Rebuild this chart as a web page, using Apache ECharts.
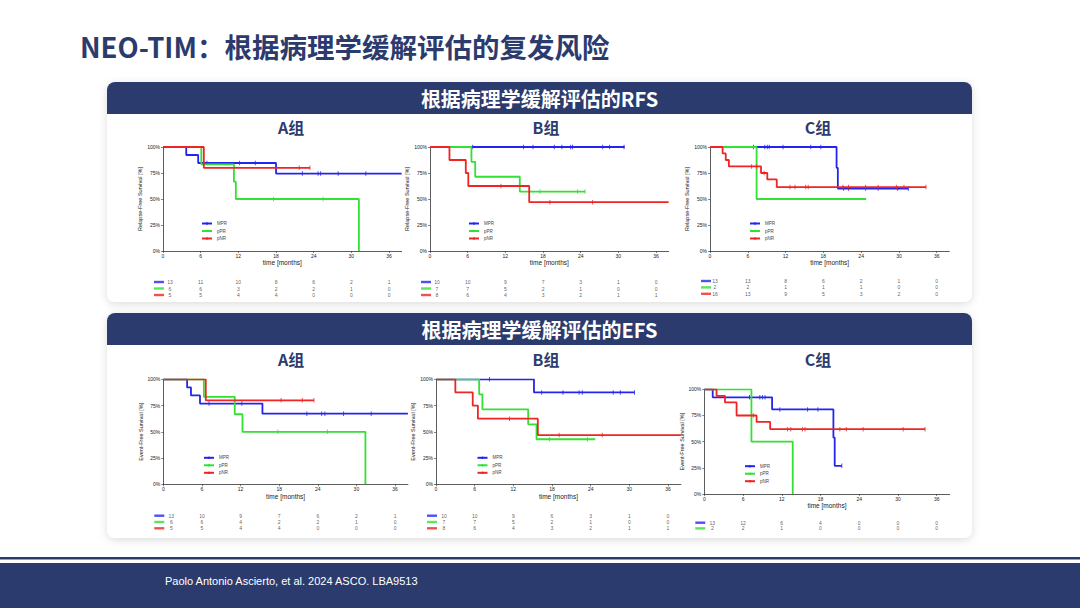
<!DOCTYPE html>
<html>
<head>
<meta charset="utf-8">
<script src="https://cdn.jsdelivr.net/npm/echarts@6/dist/echarts.min.js"></script>
<style>
html,body{margin:0;padding:0;background:#fff;}
#c{width:1080px;height:608px;}
</style>
</head>
<body>
<div id="c"></div>
<script>
// ---------- DATA ----------
const months = [0, 6, 12, 18, 24, 30, 36];
const groups = ['MPR', 'pPR', 'pNR'];

// RFS – group A
const rfsA_MPR = [[0,100],[3.7,92.3],[5.6,84.6],[18.0,74.4],[38,74.4]];
const rfsA_pPR = [[0,100],[6.1,83.3],[11.3,66.7],[11.6,50],[31.2,0]];
const rfsA_pNR = [[0,100],[6.5,80],[23.4,80]];
const rfsA_MPR_c = [7.0,12.2,14.7,22.2,24.7,25.1,27.9,32.3];
const rfsA_pPR_c = [17.6,25.5];
const rfsA_pNR_c = [21.7,23.4];
const rfsA_risk = [[13,11,10,8,6,2,1],[6,6,3,2,2,1,0],[5,5,4,4,0,0,0]];

// RFS – group B
const rfsB_MPR = [[0,100],[31.0,100]];
const rfsB_pPR = [[0,100],[6.6,85.7],[7.2,71.4],[14.3,57.1],[24.7,57.1]];
const rfsB_pNR = [[0,100],[3.1,87.5],[5.7,75],[6.1,62.5],[15.8,46.9],[38,46.9]];
const rfsB_MPR_c = [6.8,14.9,16.4,19.8,21.0,22.4,22.7,27.5,28.6,30.9];
const rfsB_pPR_c = [17.5,23.5,24.7];
const rfsB_pNR_c = [11.3,19.1,25.9];
const rfsB_risk = [[10,10,9,7,3,1,0],[7,7,5,2,1,0,0],[8,6,4,3,2,1,1]];

// RFS – group C
const rfsC_MPR = [[0,100],[20.1,80],[20.3,60],[31.5,60]];
const rfsC_pPR = [[0,100],[7.4,50],[24.8,50]];
const rfsC_pNR = [[0,100],[2.0,93.8],[2.5,87.5],[3.0,81.3],[8.1,75],[9.1,68.8],[10.6,61.5],[34.3,61.5]];
const rfsC_MPR_c = [6.9,8.7,9.1,9.4,11.6,16.0,17.6,21.2,22.0,24.7,26.7,29.8,31.5];
const rfsC_pPR_c = [];
const rfsC_pNR_c = [6.6,7.4,8.6,12.7,13.5,15.2,15.6,21.1,22.0,24.7,26.7,29.6,30.8,34.3];
const rfsC_risk = [[13,13,8,6,2,1,0],[2,2,1,1,1,0,0],[16,13,9,5,3,2,0]];

// EFS – group A
const efsA_MPR = [[0,100],[3.7,92.3],[4.3,84.6],[5.7,76.9],[15.4,67.3],[38,67.3]];
const efsA_pPR = [[0,100],[6.3,83.3],[11.1,66.7],[12.3,50],[31.4,0]];
const efsA_pNR = [[0,100],[6.6,80],[23.4,80]];
const efsA_MPR_c = [7.1,12.2,22.3,24.6,25.1,28.0,32.3];
const efsA_pPR_c = [17.8,25.5];
const efsA_pNR_c = [18.3,21.6,23.4];
const efsA_risk = [[13,10,9,7,6,2,1],[6,6,4,2,2,1,0],[5,5,4,4,0,0,0]];

// EFS – group B
const efsB_MPR = [[0,100],[15.2,87.5],[30.8,87.5]];
const efsB_pPR = [[0,100],[6.7,85.7],[7.2,71.4],[14.3,57.1],[15.6,42.9],[24.7,42.9]];
const efsB_pNR = [[0,100],[3.0,87.5],[5.7,75],[6.5,62.5],[15.8,46.9],[38,46.9]];
const efsB_MPR_c = [8.3,16.4,19.7,22.2,22.7,27.5,28.6,30.8];
const efsB_pPR_c = [17.6,23.5];
const efsB_pNR_c = [11.4,19.1,25.8];
const efsB_risk = [[10,10,9,6,3,1,0],[7,7,5,2,1,0,0],[8,6,4,3,2,1,1]];

// EFS – group C
const efsC_MPR = [[0,100],[1.3,92.3],[10.5,80.8],[20.0,53.9],[20.2,26.9],[21.3,26.9]];
const efsC_pPR = [[0,100],[7.3,50],[13.7,0]];
const efsC_pNR = [[0,100],[1.9,93.8],[3.2,87.5],[5.0,75],[8.1,68.8],[10.2,61.9],[34.2,61.9]];
const efsC_MPR_c = [7.0,8.6,9.0,9.4,11.7,16.0,17.6,21.3];
const efsC_pPR_c = [];
const efsC_pNR_c = [7.6,12.9,13.4,15.2,15.6,21.0,22.0,24.6,30.8,34.2];
const efsC_risk = [[13,12,6,4,0,0,0],[2,2,1,0,0,0,0]];

// ---------- LAYOUT / STYLE ----------
const NAVY = '#2c3b6d';
const COLORS = ['#2424f0', '#33e033', '#f02424'];
const RFS_NAME = 'Relapse-Free Survival [%]';
const EFS_NAME = 'Event-Free Survival [%]';

const panels = [
  {curves:[rfsA_MPR,rfsA_pPR,rfsA_pNR], cens:[rfsA_MPR_c,rfsA_pPR_c,rfsA_pNR_c], risk:rfsA_risk, yName:RFS_NAME,
   grid:{left:163,top:147,width:238.6,height:104}, tab:{row0:282,gap:6.5,first:7}, leg:{left:201,top:221}},
  {curves:[rfsB_MPR,rfsB_pPR,rfsB_pNR], cens:[rfsB_MPR_c,rfsB_pPR_c,rfsB_pNR_c], risk:rfsB_risk, yName:RFS_NAME,
   grid:{left:430,top:147,width:238.6,height:104}, tab:{row0:282,gap:6.5,first:7}, leg:{left:468,top:221}},
  {curves:[rfsC_MPR,rfsC_pPR,rfsC_pNR], cens:[rfsC_MPR_c,rfsC_pPR_c,rfsC_pNR_c], risk:rfsC_risk, yName:RFS_NAME,
   grid:{left:710,top:147,width:239.3,height:104}, tab:{row0:281,gap:6.4,first:5}, leg:{left:749,top:221}},
  {curves:[efsA_MPR,efsA_pPR,efsA_pNR], cens:[efsA_MPR_c,efsA_pPR_c,efsA_pNR_c], risk:efsA_risk, yName:EFS_NAME,
   grid:{left:163.3,top:379.3,width:244.6,height:105}, tab:{row0:515.7,gap:6.3,first:8}, leg:{left:203,top:455.3}},
  {curves:[efsB_MPR,efsB_pPR,efsB_pNR], cens:[efsB_MPR_c,efsB_pPR_c,efsB_pNR_c], risk:efsB_risk, yName:EFS_NAME,
   grid:{left:436,top:379.3,width:244.9,height:105}, tab:{row0:515.7,gap:6.3,first:8}, leg:{left:476.5,top:455.3}},
  {curves:[efsC_MPR,efsC_pPR,efsC_pNR], cens:[efsC_MPR_c,efsC_pPR_c,efsC_pNR_c], risk:efsC_risk, yName:EFS_NAME,
   grid:{left:704.3,top:389.3,width:245.3,height:104.7}, tab:{row0:522.7,gap:5.7,first:8}, leg:{left:744,top:463.7}}
];

function valueAt(curve, t) {
  let v = curve[0][1];
  for (const p of curve) { if (p[0] <= t) v = p[1]; }
  return v;
}

const option = {
  animation: false,
  backgroundColor: '#ffffff',
  grid: [], xAxis: [], yAxis: [], series: [], legend: [],
  graphic: { elements: [] }
};

const FONT_CJK = '"Noto Sans CJK SC", "Noto Sans", sans-serif';
const FONT_AX = 'Arial, "Liberation Sans", sans-serif';
const g = option.graphic.elements;

// Page title
g.push({type:'text', left:80, top:32.5, z:1, style:{text:'NEO-TIM：根据病理学缓解评估的复发风险', fill:NAVY, font:'bold 27.5px ' + FONT_CJK}});

// Panels
function panel(y, h, title) {
  g.push({type:'rect', shape:{x:107, y:y, width:865, height:h, r:8}, z:0,
    style:{fill:'#ffffff', shadowBlur:8, shadowColor:'rgba(0,0,0,0.14)', shadowOffsetY:2}});
  g.push({type:'rect', shape:{x:107, y:y, width:865, height:32, r:[8,8,0,0]}, z:0, style:{fill:NAVY}});
  g.push({type:'text', x:539.5, y:y+16.5, z:1, style:{text:title, fill:'#ffffff', font:'bold 20px ' + FONT_CJK, align:'center', verticalAlign:'middle'}});
}
panel(82, 220, '根据病理学缓解评估的RFS');
panel(313, 225, '根据病理学缓解评估的EFS');

const subX = [291, 546, 818];
const subLabels = ['A组', 'B组', 'C组'];
[127, 359].forEach(yy => subX.forEach((x, i) => {
  g.push({type:'text', x:x, y:yy, z:1, style:{text:subLabels[i], fill:NAVY, font:'bold 16px ' + FONT_CJK, align:'center', verticalAlign:'middle'}});
}));

// Footer
g.push({type:'rect', shape:{x:0, y:557, width:1080, height:2.5}, z:0, style:{fill:NAVY}});
g.push({type:'rect', shape:{x:0, y:563, width:1080, height:45}, z:0, style:{fill:NAVY}});
g.push({type:'text', x:165, y:581, z:1, style:{text:'Paolo Antonio Ascierto, et al. 2024 ASCO. LBA9513', fill:'#ffffff', font:'11px "Liberation Sans", Arial, sans-serif', verticalAlign:'middle'}});

// Charts
panels.forEach((p, i) => {
  const gi = 2 * i, ti = 2 * i + 1;
  option.grid.push({left:p.grid.left, top:p.grid.top, width:p.grid.width, height:p.grid.height});
  option.xAxis.push({
    gridIndex: gi, type:'value', min:0, max:38, interval:6,
    axisLine:{show:true, lineStyle:{color:'#333', width:0.8}},
    axisTick:{show:true, length:2, customValues: months, lineStyle:{color:'#333', width:0.6}},
    axisLabel:{customValues: months, fontSize:5, margin:2.5, color:'#222', fontFamily:FONT_AX,
      formatter: v => (v % 6 === 0 && v <= 36) ? String(v) : ''},
    splitLine:{show:false},
    name:'time [months]', nameLocation:'middle', nameGap:7.5,
    nameTextStyle:{fontSize:6.5, color:'#222', fontFamily:FONT_AX}
  });
  option.yAxis.push({
    gridIndex: gi, type:'value', min:0, max:100, interval:25,
    axisLine:{show:true, lineStyle:{color:'#333', width:0.8}},
    axisTick:{show:true, length:2, lineStyle:{color:'#333', width:0.6}},
    axisLabel:{fontSize:5, margin:3, color:'#222', fontFamily:FONT_AX, formatter:'{value}%'},
    splitLine:{show:false},
    name:p.yName, nameLocation:'middle', nameRotate:90, nameGap:17.5,
    nameTextStyle:{fontSize:5.5, color:'#222', fontFamily:FONT_AX}
  });
  // risk table grid
  const nRows = 3;
  option.grid.push({left:p.grid.left, top:p.tab.row0 - p.tab.gap/2, width:p.grid.width, height:p.tab.gap*nRows});
  option.xAxis.push({gridIndex: ti, type:'value', min:0, max:38, show:false});
  option.yAxis.push({gridIndex: ti, type:'value', min:-0.5, max:nRows-0.5, inverse:true, show:false});

  p.curves.forEach((c, k) => {
    option.series.push({
      name: groups[k], type:'line', xAxisIndex:gi, yAxisIndex:gi, step:'end', data:c,
      symbol:'none', z: 3 + k, lineStyle:{width:1.8, color:COLORS[k]}, itemStyle:{color:COLORS[k]}
    });
  });
  p.cens.forEach((cs, k) => {
    option.series.push({
      name: groups[k] + '-c', type:'scatter', xAxisIndex:gi, yAxisIndex:gi, z: 3 + k,
      data: cs.map(t => [t, valueAt(p.curves[k], t)]),
      symbol:'rect', symbolSize:[1, 4.5], itemStyle:{color:COLORS[k]}
    });
  });
  p.risk.forEach((row, k) => {
    option.series.push({
      name: groups[k] + '-bar', type:'scatter', xAxisIndex:ti, yAxisIndex:ti,
      data:[[0, k]], symbol:'rect', symbolSize:[10, 2.4], symbolOffset:[-4, 0],
      itemStyle:{color:COLORS[k]}, clip:false
    });
    option.series.push({
      name: groups[k] + '-risk', type:'scatter', xAxisIndex:ti, yAxisIndex:ti,
      data: months.map((m, j) => ({value:[m, k, row[j]], label:{offset:[j === 0 ? p.tab.first : 0, 0]}})),
      symbolSize:1, itemStyle:{color:'transparent'}, clip:false,
      label:{show:true, position:'inside', formatter: q => String(q.value[2]), fontSize:5, color:'#333', fontFamily:FONT_AX}
    });
  });
  option.legend.push({
    data: groups, orient:'vertical', left:p.leg.left, top:p.leg.top, padding:0,
    itemWidth:10, itemHeight:3, itemGap:2.5, selectedMode:false,
    textStyle:{fontSize:4.5, color:'#444', fontFamily:FONT_AX}
  });
});

const chart = echarts.init(document.getElementById('c'), null, {renderer:'svg', width:1080, height:608});
chart.setOption(option);
</script>
</body>
</html>
